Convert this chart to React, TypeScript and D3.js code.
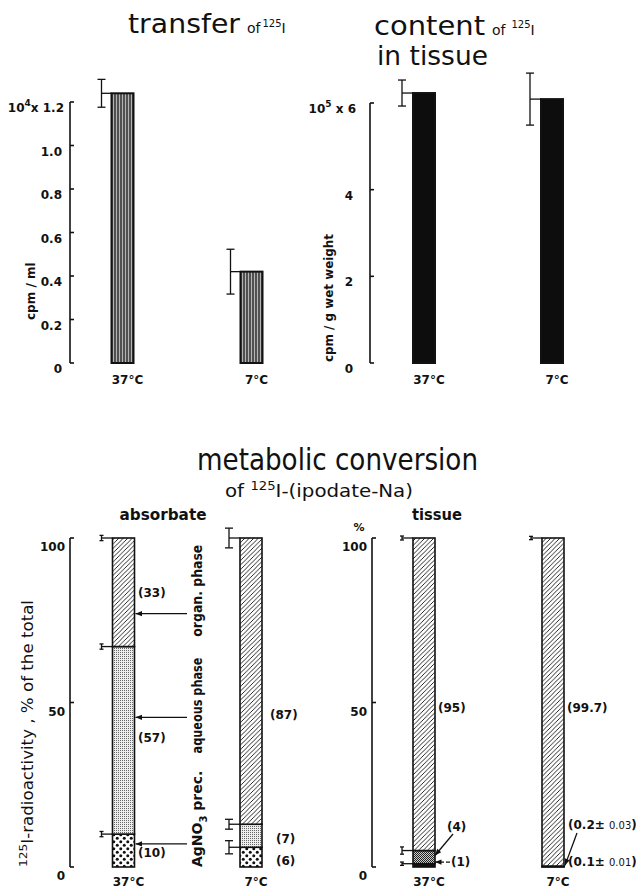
import * as d3 from "d3";

// categories and values
const temps = ["37°C", "7°C"];

const transferMean = [1.24, 0.42]; // x 10^4 cpm/ml
const transferErr = [0.064, 0.103];
const transferTicks = [0, 0.2, 0.4, 0.6, 0.8, 1.0, 1.2];

const contentMean = [6.23, 6.09]; // x 10^5 cpm/g wet weight
const contentErr = [0.3, 0.6];
const contentTicks = [0, 2, 4, 6];

const fractions = ["agno3", "aqueous", "organ"];
const absorbate37 = [10, 57, 33];
const absorbate7 = [6, 7, 87];
const absorbateErr37 = [0.8, 0.8, 0.8];
const absorbateErr7 = [2, 1.5, 3];
const tissue37 = [1, 4, 95];
const tissue7 = [0.1, 0.2, 99.7];
const tissueErr37 = [0.5, 1.1, 0.6];
const tissueErr7 = [0, 0, 0.5];
const pctTicks = [0, 50, 100];

const FONT = "'DejaVu Sans', sans-serif";
const BW = 22; // bar width

const yTransfer = d3.scaleLinear().domain([0, 1.2]).range([363, 102]);
const yContent = d3.scaleLinear().domain([0, 6]).range([363, 103]);
const yPct = d3.scaleLinear().domain([0, 100]).range([867, 538]);
const xTransfer = d3.scalePoint().domain(temps).range([122.5, 251.5]);
const xContent = d3.scalePoint().domain(temps).range([424, 552]);
const xAbs = d3.scalePoint().domain(temps).range([123.5, 251]);
const xTis = d3.scalePoint().domain(temps).range([424, 553]);

const stack = d3.stack().keys(fractions);
const toRows = (a, b) =>
  [a, b].map((v) => Object.fromEntries(fractions.map((k, i) => [k, v[i]])));
const absSeries = stack(toRows(absorbate37, absorbate7));
const tisSeries = stack(toRows(tissue37, tissue7));

const absFill = ["url(#bigdots)", "url(#stipple)", "url(#hatch)"];
const tisFill = ["#111", "url(#dense)", "url(#hatch)"];

function Axis({ x, y, ticks }) {
  const [y0, y1] = y.range();
  return (
    <g stroke="#111" strokeWidth={1.6} fill="none">
      <line x1={x} x2={x} y1={y0} y2={y1} />
      {ticks.map((t) => (
        <line key={t} x1={x} x2={x + 4} y1={y(t)} y2={y(t)} />
      ))}
    </g>
  );
}

function ErrBar({ x, y, m, e, xBar, cap = 4 }) {
  return (
    <g stroke="#111" strokeWidth={1.3}>
      <line x1={x} x2={x} y1={y(m + e)} y2={y(m - e)} />
      <line x1={x - cap} x2={x + cap} y1={y(m + e)} y2={y(m + e)} />
      <line x1={x - cap} x2={x + cap} y1={y(m - e)} y2={y(m - e)} />
      <line x1={x} x2={xBar} y1={y(m)} y2={y(m)} />
    </g>
  );
}

function TempLabels({ x, y }) {
  return temps.map((t) => (
    <text key={t} x={x(t) + 5} y={y} textAnchor="middle" fontSize={12} fontWeight="bold">
      {t}
    </text>
  ));
}

function Stacked({ x, series, fills, errs }) {
  return temps.map((t, j) => (
    <g key={t}>
      {series.map((s, i) => (
        <rect
          key={s.key}
          x={x(t) - BW / 2}
          y={yPct(s[j][1])}
          width={BW}
          height={yPct(s[j][0]) - yPct(s[j][1])}
          fill={fills[i]}
          stroke="#111"
          strokeWidth={1.6}
        />
      ))}
      {series.map((s, i) =>
        errs[j][i] > 0 ? (
          <ErrBar
            key={"e" + s.key}
            x={x(t) - BW / 2 - 11}
            y={yPct}
            m={s[j][1]}
            e={errs[j][i]}
            xBar={x(t) - BW / 2}
            cap={errs[j][i] > 1.2 ? 4 : 2}
          />
        ) : null
      )}
    </g>
  ));
}

export default function App() {
  const pctLabel = (t, ax) => (
    <text key={t} x={ax - 5} y={yPct(t) + 13} textAnchor="end" fontSize={12} fontWeight="bold">
      {t}
    </text>
  );
  return (
    <svg width={636} height={890} style={{ position: "absolute", left: 0, top: 0 }} fontFamily={FONT} fill="#111">
      <defs>
        <pattern id="vlines" width={3} height={10} patternUnits="userSpaceOnUse">
          <rect width={3} height={10} fill="#b4b4b4" />
          <line x1={1} x2={1} y1={0} y2={10} stroke="#1a1a1a" strokeWidth={1.3} />
        </pattern>
        <pattern id="hatch" width={4.5} height={4.5} patternUnits="userSpaceOnUse">
          <rect width={4.5} height={4.5} fill="#fff" />
          <path d="M-1,1 l2,-2 M0,4.5 l4.5,-4.5 M3.5,5.5 l2,-2" stroke="#111" strokeWidth={0.9} />
        </pattern>
        <pattern id="stipple" width={2} height={2} patternUnits="userSpaceOnUse">
          <rect width={2} height={2} fill="#eee" />
          <rect width={1} height={1} fill="#666" />
        </pattern>
        <pattern id="dense" width={2} height={2} patternUnits="userSpaceOnUse">
          <rect width={2} height={2} fill="#ccc" />
          <rect width={1} height={1} fill="#222" />
          <rect x={1} y={1} width={1} height={1} fill="#222" />
        </pattern>
        <pattern id="bigdots" width={7} height={7} patternUnits="userSpaceOnUse">
          <rect width={7} height={7} fill="#fff" />
          <circle cx={1.75} cy={1.75} r={1.5} fill="#111" />
          <circle cx={5.25} cy={5.25} r={1.5} fill="#111" />
        </pattern>
        <marker id="arr" viewBox="0 0 10 10" refX={10} refY={5} markerWidth={6} markerHeight={5} orient="auto">
          <path d="M0,1 L10,5 L0,9 z" fill="#111" />
        </marker>
      </defs>

      {/* ---------- transfer of 125I ---------- */}
      <text x={128} y={33} fontSize={27} textLength={112} lengthAdjust="spacingAndGlyphs">transfer</text>
      <text x={247} y={33} fontSize={14}>
        of<tspan dx={2} dy={-6} fontSize={10}>125</tspan>
        <tspan dy={6}>I</tspan>
      </text>
      <Axis x={70} y={yTransfer} ticks={transferTicks} />
      {transferTicks.map((t) => (
        <text key={t} x={t === 1.2 ? 64 : 62} y={yTransfer(t) + 10} textAnchor="end" fontSize={12} fontWeight="bold">
          {t === 1.2 ? (
            <>
              10<tspan dy={-6} fontSize={9}>4</tspan>
              <tspan dy={6}>x 1.2</tspan>
            </>
          ) : t === 0 ? "0" : d3.format(".1f")(t)}
        </text>
      ))}
      <text transform="translate(35,320) rotate(-90)" fontSize={12} fontWeight="bold">cpm / ml</text>
      {temps.map((t, i) => (
        <g key={t}>
          <rect
            x={xTransfer(t) - BW / 2}
            y={yTransfer(transferMean[i])}
            width={BW}
            height={yTransfer(0) - yTransfer(transferMean[i])}
            fill="url(#vlines)"
            stroke="#111"
            strokeWidth={2}
          />
          <ErrBar x={xTransfer(t) - BW / 2 - 10} y={yTransfer} m={transferMean[i]} e={transferErr[i]} xBar={xTransfer(t) - BW / 2} />
        </g>
      ))}
      <TempLabels x={xTransfer} y={384} />

      {/* ---------- content of 125I in tissue ---------- */}
      <text x={374} y={35} fontSize={27} textLength={111} lengthAdjust="spacingAndGlyphs">content</text>
      <text x={492} y={35} fontSize={14}>
        of<tspan dx={6} dy={-7} fontSize={10}>125</tspan>
        <tspan dy={7}>I</tspan>
      </text>
      <text x={377} y={65} fontSize={27} textLength={111} lengthAdjust="spacingAndGlyphs">in tissue</text>
      <Axis x={370} y={yContent} ticks={contentTicks} />
      {contentTicks.map((t) => (
        <text key={t} x={t === 6 ? 356 : 353} y={yContent(t) + 10} textAnchor="end" fontSize={12} fontWeight="bold">
          {t === 6 ? (
            <>
              10<tspan dy={-6} fontSize={9}>5</tspan>
              <tspan dy={6}> x 6</tspan>
            </>
          ) : t}
        </text>
      ))}
      <text transform="translate(333,362) rotate(-90)" fontSize={12} fontWeight="bold" textLength={128} lengthAdjust="spacingAndGlyphs">
        cpm / g wet weight
      </text>
      {temps.map((t, i) => (
        <g key={t}>
          <rect
            x={xContent(t) - BW / 2}
            y={yContent(contentMean[i])}
            width={BW}
            height={yContent(0) - yContent(contentMean[i])}
            fill="#0d0d0d"
            stroke="#111"
            strokeWidth={2}
          />
          <ErrBar x={xContent(t) - BW / 2 - 11} y={yContent} m={contentMean[i]} e={contentErr[i]} xBar={xContent(t) - BW / 2} />
        </g>
      ))}
      <TempLabels x={xContent} y={384} />

      {/* ---------- metabolic conversion ---------- */}
      <text x={197} y={470} fontSize={31} textLength={281} lengthAdjust="spacingAndGlyphs">metabolic conversion</text>
      <text x={225} y={497} fontSize={18} textLength={188} lengthAdjust="spacingAndGlyphs">
        of <tspan dy={-7} fontSize={12}>125</tspan>
        <tspan dy={7}>I-(ipodate-Na)</tspan>
      </text>
      <text x={163} y={520} textAnchor="middle" fontSize={15} fontWeight="bold" textLength={87} lengthAdjust="spacingAndGlyphs">absorbate</text>
      <text x={437} y={520} textAnchor="middle" fontSize={15} fontWeight="bold" textLength={50} lengthAdjust="spacingAndGlyphs">tissue</text>

      {/* absorbate */}
      <Axis x={70} y={yPct} ticks={pctTicks} />
      {pctTicks.map((t) => pctLabel(t, 70))}
      <text transform="translate(33,867) rotate(-90)" fontSize={15} textLength={267} lengthAdjust="spacingAndGlyphs">
        <tspan dy={-6} fontSize={11}>125</tspan>
        <tspan dy={6}>I-radioactivity , % of the total</tspan>
      </text>
      <Stacked x={xAbs} series={absSeries} fills={absFill} errs={[absorbateErr37, absorbateErr7]} />
      {[77, 45.5, 7].map((v) => (
        <line key={v} x1={187} x2={xAbs("37°C") + BW / 2 + 1} y1={yPct(v)} y2={yPct(v)} stroke="#111" strokeWidth={1.3} markerEnd="url(#arr)" />
      ))}
      <g fontSize={12} fontWeight="bold">
        <text x={138} y={yPct(82)}>(33)</text>
        <text x={138} y={yPct(38)}>(57)</text>
        <text x={138} y={yPct(3)}>(10)</text>
        <text x={270} y={yPct(45)}>(87)</text>
        <text x={276} y={yPct(7.2)}>(7)</text>
        <text x={276} y={yPct(0.6)}>(6)</text>
      </g>
      <g fontSize={14} fontWeight="bold">
        <text transform={`translate(202,${yPct(70)}) rotate(-90)`} textLength={92} lengthAdjust="spacingAndGlyphs">organ. phase</text>
        <text transform={`translate(202,${yPct(34.5)}) rotate(-90)`} textLength={96} lengthAdjust="spacingAndGlyphs">aqueous phase</text>
        <text transform={`translate(202,${yPct(0)}) rotate(-90)`}>
          AgNO<tspan dy={5} fontSize={10}>3</tspan>
          <tspan dy={-5}> prec.</tspan>
        </text>
      </g>
      <TempLabels x={xAbs} y={886} />

      {/* tissue */}
      <Axis x={372} y={yPct} ticks={pctTicks} />
      {pctTicks.map((t) => pctLabel(t, 372))}
      <text x={359} y={531} textAnchor="middle" fontSize={11} fontWeight="bold">%</text>
      <Stacked x={xTis} series={tisSeries} fills={tisFill} errs={[tissueErr37, tissueErr7]} />
      <line x1={453} x2={xTis("37°C") + BW / 2} y1={834} y2={yPct(3.5)} stroke="#111" strokeWidth={1.3} markerEnd="url(#arr)" />
      <line x1={450} x2={xTis("37°C") + BW / 2} y1={yPct(1.5)} y2={yPct(1.5)} stroke="#111" strokeWidth={1.3} strokeDasharray="4 2" markerEnd="url(#arr)" />
      <line x1={577} x2={xTis("7°C") + BW / 2 + 1} y1={833} y2={yPct(0.5)} stroke="#111" strokeWidth={1.3} markerEnd="url(#arr)" />
      <g fontSize={12} fontWeight="bold">
        <text x={438} y={yPct(47)}>(95)</text>
        <text x={567} y={yPct(47)}>(99.7)</text>
        <text x={447} y={yPct(11)}>(4)</text>
        <text x={451} y={yPct(0.2)}>(1)</text>
        <text x={568} y={yPct(11.4)}>
          (0.2± <tspan fontSize={10} fontWeight="normal">0.03</tspan>)
        </text>
        <text x={568} y={yPct(0.2)}>
          (0.1± <tspan fontSize={10} fontWeight="normal">0.01</tspan>)
        </text>
      </g>
      <TempLabels x={xTis} y={886} />
    </svg>
  );
}
